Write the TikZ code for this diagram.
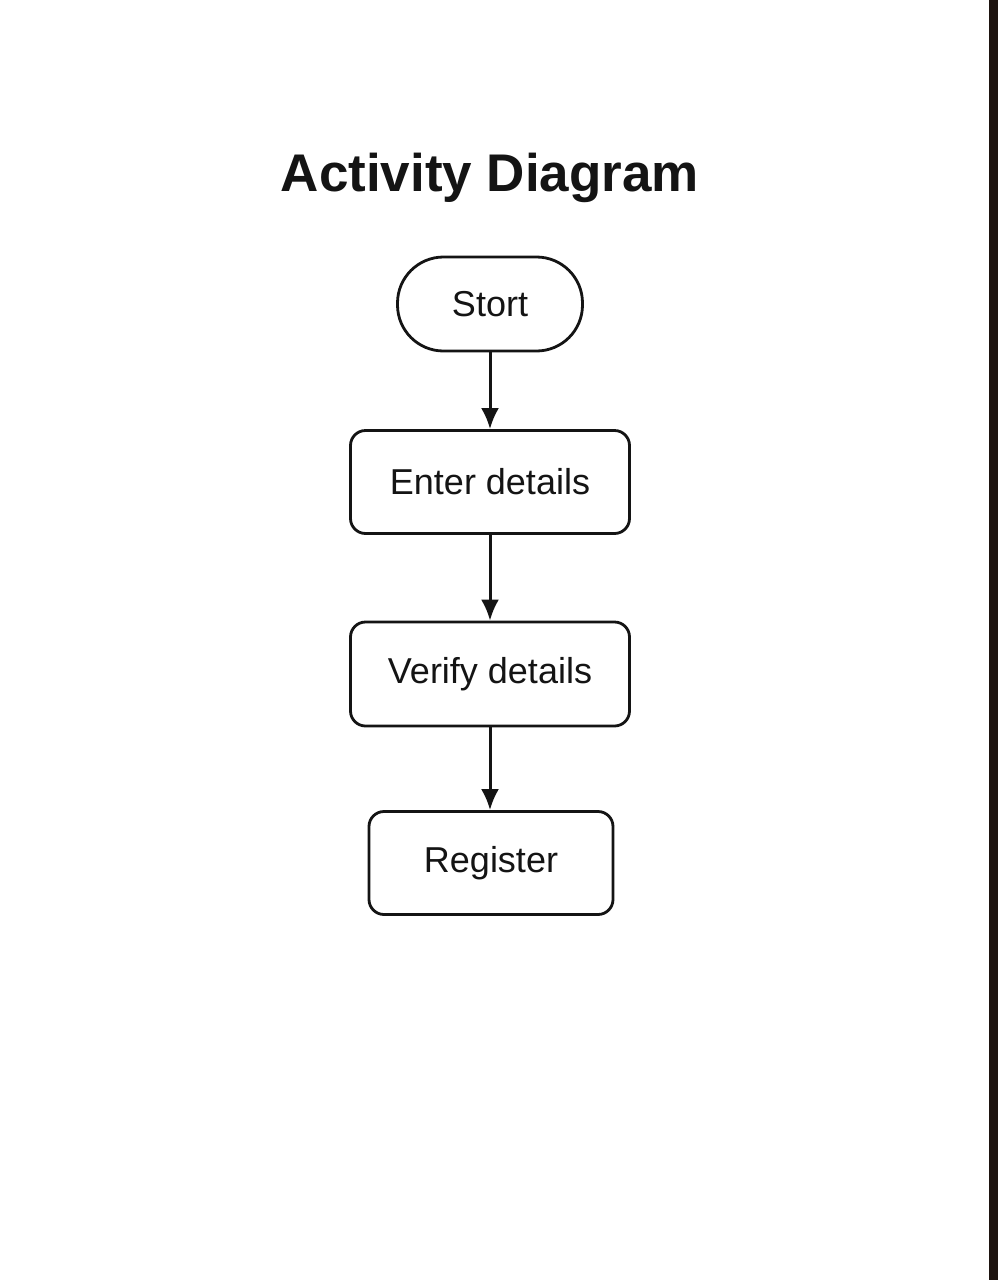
\documentclass[tikz,border=0pt]{standalone}
\usepackage{fontspec}
\setmainfont{Liberation Sans}
\usetikzlibrary{arrows.meta}
\definecolor{edgedark}{HTML}{1E1410}
\definecolor{ink}{HTML}{141414}
\begin{document}
\begin{tikzpicture}[x=1pt,y=-1pt,
  box/.style={draw=ink, text=ink, line width=2.8pt, rounded corners=15pt, inner sep=0pt, font=\fontsize{36}{40}\selectfont},
  pill/.style={draw=ink, text=ink, line width=2.8pt, rounded corners=46pt, inner sep=0pt, font=\fontsize{36}{40}\selectfont},
  flow/.style={draw=ink, line width=3pt, -{Latex[length=21pt,width=18pt]}}]
\useasboundingbox (0,0) rectangle (998,1280);
\fill[white] (0,0) rectangle (998,1280);
\fill[edgedark] (989,0) rectangle (998,1280);
\node[text=ink, font=\fontsize{53}{58}\selectfont\bfseries] (title) at (490,178) {Activity Diagram};
\node[pill, minimum width=185pt, minimum height=94pt] (start) at (490,304) {Stort};
\node[box, minimum width=279pt, minimum height=103pt] (enter) at (490,482) {Enter details};
\node[box, minimum width=279pt, minimum height=104pt] (verify) at (490,674) {Verify details};
\node[box, minimum width=244pt, minimum height=103pt] (register) at (491,863) {Register};
\draw[flow] (start) -- (enter);
\draw[flow] (enter) -- (verify);
\draw[flow] (verify) -- (verify.south |- register.north);
\end{tikzpicture}
\end{document}
